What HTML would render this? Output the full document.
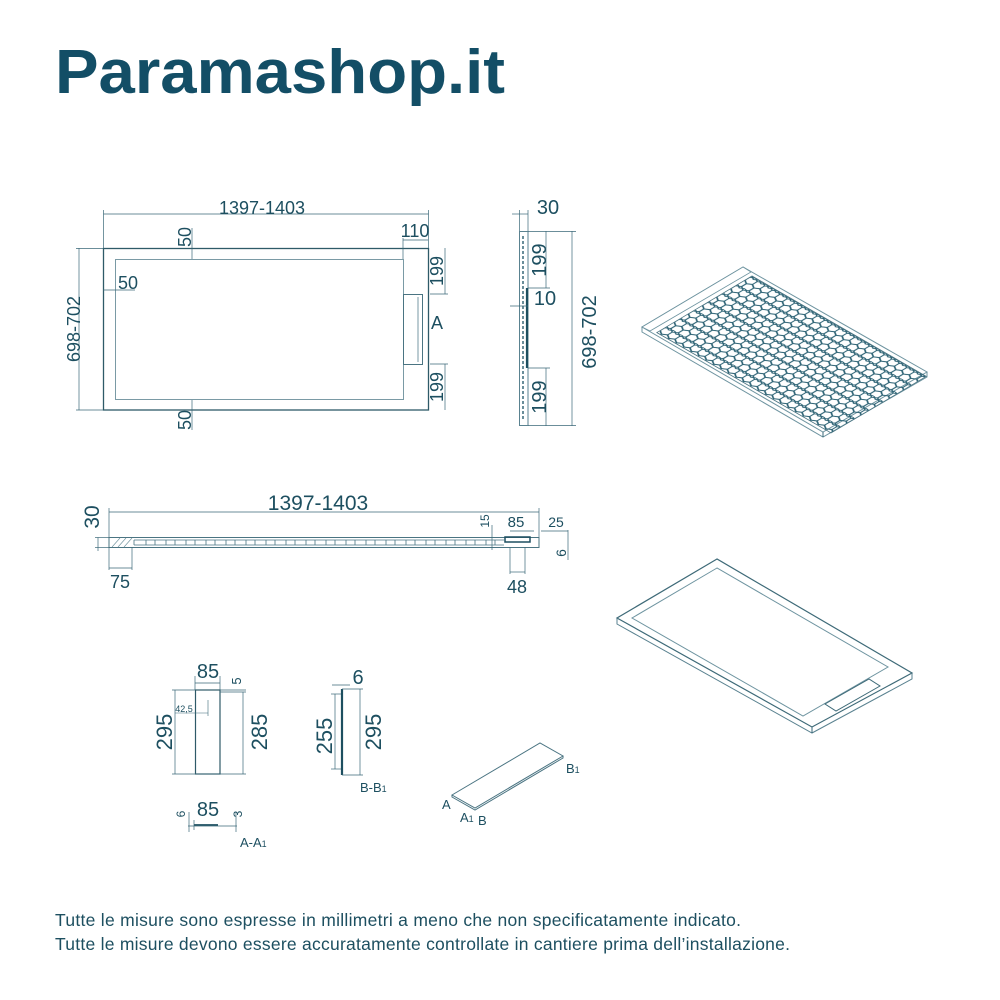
<!DOCTYPE html>
<html><head><meta charset="utf-8"><style>
html,body{margin:0;padding:0;background:#fff}
svg{display:block}
text{font-family:"Liberation Sans",sans-serif;fill:#1d4f60}
</style></head><body>
<svg width="1000" height="1000" viewBox="0 0 1000 1000" xmlns="http://www.w3.org/2000/svg">
<defs>
<pattern id="hex" patternUnits="userSpaceOnUse" width="6" height="10.4">
<g fill="none" stroke="#2c6274" stroke-width="0.8">
<polygon points="3,0 6,1.7 6,5.1 3,6.9 0,5.1 0,1.7"/>
<polygon points="0,5.2 3,6.9 3,10.3 0,12.1 -3,10.3 -3,6.9"/>
<polygon points="6,5.2 9,6.9 9,10.3 6,12.1 3,10.3 3,6.9"/>
<polygon points="3,-5.2 6,-3.5 6,0 3,1.7 0,0 0,-3.5"/>
</g>
</pattern>
</defs>
<text x="55" y="93" font-size="62" font-weight="bold" style="fill:#134e66" textLength="450" lengthAdjust="spacingAndGlyphs">Paramashop.it</text>

<g fill="none" stroke="#3a6878" stroke-width="1">
<rect x="103.5" y="248.5" width="325" height="161.5" stroke="#2e5a68" stroke-width="1.3"/>
<rect x="115.5" y="259.5" width="288" height="140" stroke="#7a9aa5"/>
<rect x="403.5" y="294.5" width="19" height="70" stroke="#4a7482"/>
<line x1="418" y1="297" x2="418" y2="362" stroke="#7a9aa5"/>
<line x1="103.5" y1="214" x2="428.5" y2="214" stroke-width="0.7"/>
<line x1="103.5" y1="210" x2="103.5" y2="248" stroke-width="0.7"/>
<line x1="428.5" y1="210" x2="428.5" y2="248" stroke-width="0.7"/>
<line x1="79" y1="248" x2="79" y2="410" stroke-width="0.7"/>
<line x1="76" y1="248.5" x2="103" y2="248.5" stroke-width="0.7"/>
<line x1="76" y1="410" x2="103" y2="410" stroke-width="0.7"/>
<line x1="403" y1="240" x2="428" y2="240" stroke-width="0.7"/>
<line x1="403" y1="238" x2="403" y2="259" stroke-width="0.7"/>
<line x1="445" y1="248" x2="445" y2="294" stroke-width="0.7"/>
<line x1="445" y1="364" x2="445" y2="410" stroke-width="0.7"/>
<line x1="430" y1="294" x2="448" y2="294" stroke-width="0.7"/>
<line x1="430" y1="364" x2="448" y2="364" stroke-width="0.7"/>
<line x1="192" y1="228" x2="192" y2="259" stroke-width="0.7"/>
<line x1="192" y1="400" x2="192" y2="430" stroke-width="0.7"/>
<line x1="103" y1="290" x2="135" y2="290" stroke-width="0.7"/>

<rect x="519.5" y="231.5" width="8.5" height="194" stroke="#5a8290"/>
<line x1="523" y1="236" x2="523" y2="420" stroke="#6a8e9a" stroke-dasharray="3 2" stroke-width="2"/>
<line x1="527" y1="288" x2="527" y2="368" stroke="#1d4f60" stroke-width="2.2"/>
<line x1="512" y1="214" x2="528" y2="214" stroke-width="0.7"/>
<line x1="519.5" y1="210" x2="519.5" y2="231" stroke-width="0.7"/>
<line x1="528" y1="210" x2="528" y2="231" stroke-width="0.7"/>
<line x1="546" y1="231" x2="546" y2="288" stroke-width="0.7"/>
<line x1="546" y1="368" x2="546" y2="426" stroke-width="0.7"/>
<line x1="528" y1="231.5" x2="576" y2="231.5" stroke-width="0.7"/>
<line x1="528" y1="425.5" x2="576" y2="425.5" stroke-width="0.7"/>
<line x1="528" y1="288" x2="550" y2="288" stroke-width="0.7"/>
<line x1="528" y1="368" x2="550" y2="368" stroke-width="0.7"/>
<line x1="572" y1="231" x2="572" y2="426" stroke-width="0.7"/>
<line x1="510" y1="306" x2="528" y2="306" stroke-width="0.7"/>

<rect x="109" y="537.5" width="430" height="10" stroke="#4a7482"/>
<line x1="109" y1="512" x2="539" y2="512" stroke-width="0.7"/>
<line x1="109" y1="508" x2="109" y2="537" stroke-width="0.7"/>
<line x1="539" y1="508" x2="539" y2="537" stroke-width="0.7"/>
<line x1="98" y1="537.5" x2="98" y2="551" stroke-width="0.7"/>
<line x1="95" y1="537.5" x2="109" y2="537.5" stroke-width="0.7"/>
<line x1="95" y1="547.5" x2="109" y2="547.5" stroke-width="0.7"/>
<line x1="109" y1="547" x2="109" y2="570" stroke-width="0.7"/>
<line x1="132" y1="547" x2="132" y2="570" stroke-width="0.7"/>
<line x1="109" y1="568" x2="132" y2="568" stroke-width="0.7"/>
<line x1="510" y1="531" x2="534" y2="531" stroke-width="0.7"/>
<line x1="541" y1="531" x2="568" y2="531" stroke-width="0.7"/>
<line x1="568" y1="530" x2="568" y2="560" stroke-width="0.7"/>
<line x1="492" y1="525" x2="492" y2="550" stroke-width="0.7"/>
<line x1="510" y1="547" x2="510" y2="574" stroke-width="0.7"/>
<line x1="525" y1="547" x2="525" y2="574" stroke-width="0.7"/>
<line x1="510" y1="572" x2="525" y2="572" stroke-width="0.7"/>
<rect x="505" y="537" width="25" height="5" stroke="#1d4f60" stroke-width="1.5"/>

<rect x="195.5" y="690" width="24.5" height="84" stroke="#2e5a68" stroke-width="1.2"/>
<line x1="195" y1="683" x2="220" y2="683" stroke-width="0.7"/>
<line x1="195" y1="676" x2="195" y2="690" stroke-width="0.7"/>
<line x1="220" y1="676" x2="220" y2="690" stroke-width="0.7"/>
<line x1="175" y1="690" x2="175" y2="774" stroke-width="0.7"/>
<line x1="172" y1="690" x2="195" y2="690" stroke-width="0.7"/>
<line x1="172" y1="774" x2="246" y2="774" stroke-width="0.7"/>
<line x1="243" y1="692" x2="243" y2="774" stroke-width="0.7"/>
<line x1="220" y1="690" x2="246" y2="690" stroke-width="0.7"/>
<line x1="220" y1="692" x2="246" y2="692" stroke-width="0.7"/>
<line x1="175" y1="713" x2="208" y2="713" stroke-width="0.6"/>
<line x1="208" y1="700" x2="208" y2="716" stroke-width="0.6"/>

<line x1="342" y1="689" x2="342" y2="775" stroke="#1d4f60" stroke-width="2.2"/>
<line x1="335" y1="694" x2="335" y2="769" stroke-width="0.7"/>
<line x1="331" y1="694" x2="341" y2="694" stroke-width="0.7"/>
<line x1="331" y1="769" x2="341" y2="769" stroke-width="0.7"/>
<line x1="360" y1="689" x2="360" y2="775" stroke-width="0.7"/>
<line x1="342" y1="689" x2="363" y2="689" stroke-width="0.7"/>
<line x1="342" y1="775" x2="363" y2="775" stroke-width="0.7"/>
<line x1="332" y1="685" x2="350" y2="685" stroke-width="0.7"/>

<line x1="194" y1="825" x2="218" y2="825" stroke="#1d4f60" stroke-width="1.8"/>
<line x1="188" y1="826" x2="237" y2="826" stroke-width="0.7"/>
<line x1="194" y1="820" x2="194" y2="830" stroke-width="0.7"/>
<line x1="236" y1="812" x2="236" y2="832" stroke-width="0.7"/>
<line x1="189" y1="812" x2="189" y2="832" stroke-width="0.7"/>

<polygon points="452,795 540,743 563,756 475,808" stroke="#4a7482"/>
<polyline points="452,795 452,797 475,810 563,758 563,756" stroke="#4a7482"/>

<polygon points="717,559 617,618 812,727 912,673" stroke="#3e6a78" stroke-width="1.2"/>
<polyline points="617,618 617,624 812,733 912,679 912,673" stroke="#5a8290"/>
<line x1="812" y1="727" x2="812" y2="733"/>
<polygon points="717,568 632,618 803,716 888,667" stroke="#6e94a0"/>
<polygon points="825,704 869,679 880,686 836,711" stroke="#3e6a78"/>

<polygon points="743,267 642,327 823,432 927,372" stroke="#6e94a0"/>
<polyline points="642,327 642,332 823,437 927,377 927,372" stroke="#6e94a0"/>
<line x1="823" y1="432" x2="823" y2="437"/>
</g>
<g transform="matrix(1.245,0.717,-1.36,0.808,752,276)">
<rect x="0" y="0" width="140" height="70" fill="url(#hex)" stroke="#4a7482" stroke-width="0.6"/>
</g>
<polygon points="743,267 642,327 650,331 751,272" fill="#fff" stroke="#6e94a0" stroke-width="0.8"/>

<g stroke="#6a8e9a" stroke-width="0.6">
<line x1="112" y1="547" x2="120" y2="538"/><line x1="118" y1="547" x2="126" y2="538"/><line x1="124" y1="547" x2="132" y2="538"/>
</g>
<g stroke="#4a7482" stroke-width="0.8" fill="none">
<path d="M134 540 h370 M134 545 h370 M134 540 v5" />
</g>
<g stroke="#4a7482" stroke-width="0.8">
<path d="M146 540v5M155 540v5M166 540v5M175 540v5M186 540v5M195 540v5M206 540v5M215 540v5M226 540v5M235 540v5M246 540v5M255 540v5M266 540v5M275 540v5M286 540v5M295 540v5M306 540v5M315 540v5M326 540v5M335 540v5M346 540v5M355 540v5M366 540v5M375 540v5M386 540v5M395 540v5M406 540v5M415 540v5M426 540v5M435 540v5M446 540v5M455 540v5M466 540v5M475 540v5M486 540v5M495 540v5"/>
</g>

<g font-size="18">
<text x="262" y="214" text-anchor="middle">1397-1403</text>
<text x="415" y="237" text-anchor="middle">110</text>
<text x="118" y="289">50</text>
<text transform="translate(191,247) rotate(-90)">50</text>
<text transform="translate(191,430) rotate(-90)">50</text>
<text transform="translate(80,329) rotate(-90)" text-anchor="middle">698-702</text>
<text transform="translate(443,271) rotate(-90)" text-anchor="middle">199</text>
<text transform="translate(443,387) rotate(-90)" text-anchor="middle">199</text>
<text x="431" y="329">A</text>
<text x="548" y="214" text-anchor="middle" font-size="20">30</text>
<text transform="translate(546,260) rotate(-90)" text-anchor="middle" font-size="20">199</text>
<text transform="translate(546,397) rotate(-90)" text-anchor="middle" font-size="20">199</text>
<text x="545" y="305" text-anchor="middle" font-size="20">10</text>
<text transform="translate(596,332) rotate(-90)" text-anchor="middle" font-size="20">698-702</text>
<text x="318" y="510" text-anchor="middle" font-size="21">1397-1403</text>
<text transform="translate(99,517) rotate(-90)" text-anchor="middle" font-size="21">30</text>
<text x="120" y="588" text-anchor="middle">75</text>
<text x="517" y="593" text-anchor="middle">48</text>
<text x="516" y="527" text-anchor="middle" font-size="15">85</text>
<text x="556" y="527" text-anchor="middle" font-size="14">25</text>
<text transform="translate(489,521) rotate(-90)" text-anchor="middle" font-size="12">15</text>
<text transform="translate(566,553) rotate(-90)" text-anchor="middle" font-size="14">6</text>
<text x="208" y="678" text-anchor="middle" font-size="20">85</text>
<text transform="translate(241,681) rotate(-90)" text-anchor="middle" font-size="13">5</text>
<text x="184" y="712" text-anchor="middle" font-size="9">42,5</text>
<text transform="translate(172,732) rotate(-90)" text-anchor="middle" font-size="22">295</text>
<text transform="translate(267,732) rotate(-90)" text-anchor="middle" font-size="22">285</text>
<text x="358" y="684" text-anchor="middle" font-size="20">6</text>
<text transform="translate(332,736) rotate(-90)" text-anchor="middle" font-size="22">255</text>
<text transform="translate(381,732) rotate(-90)" text-anchor="middle" font-size="22">295</text>
<text x="360" y="792" font-size="13">B-B<tspan font-size="9">1</tspan></text>
<text x="208" y="816" text-anchor="middle" font-size="20">85</text>
<text transform="translate(185,814) rotate(-90)" text-anchor="middle" font-size="12">6</text>
<text transform="translate(242,814) rotate(-90)" text-anchor="middle" font-size="12">3</text>
<text x="240" y="847" font-size="13">A-A<tspan font-size="9">1</tspan></text>
<text x="442" y="809" font-size="13">A</text>
<text x="460" y="822" font-size="13">A<tspan font-size="9">1</tspan></text>
<text x="478" y="825" font-size="13">B</text>
<text x="566" y="773" font-size="13">B<tspan font-size="9">1</tspan></text>
</g>
<text x="55" y="926" font-size="17.5" textLength="686">Tutte le misure sono espresse in millimetri a meno che non specificatamente indicato.</text>
<text x="55" y="950" font-size="17.5" textLength="735">Tutte le misure devono essere accuratamente controllate in cantiere prima dell’installazione.</text>
</svg>
</body></html>
